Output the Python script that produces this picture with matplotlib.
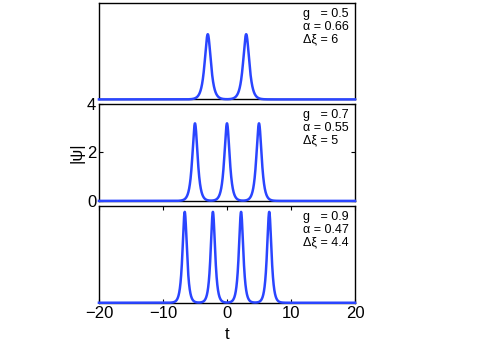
import numpy as np
import matplotlib
matplotlib.use("Agg")
import matplotlib.pyplot as plt

plt.rcParams['font.family'] = ['Liberation Sans', 'DejaVu Sans']

# pulse parameters (one list per panel)
centers = [[-3.0, 3.0], [-5.0, 0.0, 5.0], [-6.6, -2.2, 2.2, 6.6]]
heights = [2.7, 3.2, 3.75]
widths = [0.42, 0.36, 0.3]
g_vals = ["0.5", "0.7", "0.9"]
alpha_vals = ["0.66", "0.55", "0.47"]
dxi_vals = ["6", "5", "4.4"]

t = np.linspace(-20, 20, 4001)

fig = plt.figure(figsize=(4.85, 3.5), dpi=100)

# panel boxes in figure fractions (left, bottom, width, height)
boxes = [(0.204, 0.716, 0.528, 0.276),
         (0.204, 0.426, 0.528, 0.277),
         (0.204, 0.135, 0.528, 0.277)]

for i, box in enumerate(boxes):
    ax = fig.add_axes(box)
    psi = np.zeros_like(t)
    for c in centers[i]:
        psi += heights[i] / np.cosh((t - c) / widths[i])
    ax.plot(t, psi, color='#2a45ff', lw=1.8, clip_on=False, zorder=3)
    ax.set_xlim(-20, 20)
    ax.set_ylim(0, 4)
    for s in ax.spines.values():
        s.set_linewidth(1.0)

    txt = "g   = %s\n\u03b1 = %s\n\u0394\u03be = %s" % (g_vals[i], alpha_vals[i], dxi_vals[i])
    ax.text(0.797, 0.95, txt, transform=ax.transAxes, fontsize=9,
            va='top', ha='left', linespacing=1.1)

    ax.tick_params(direction='in', length=3, width=0.8, top=True, right=True,
                   labelsize=12, pad=2)
    if i == 1:
        ax.set_yticks([0, 2, 4])
        ax.set_xticks([])
        ax.set_ylabel("|\u03c8|", fontsize=12, labelpad=2)
    elif i == 2:
        ax.set_xticks([-20, -10, 0, 10, 20])
        ax.set_xticklabels(["\u221220", "\u221210", "0", "10", "20"])
        ax.set_yticks([])
        ax.set_xlabel("t", fontsize=12, labelpad=5)
    else:
        ax.set_xticks([])
        ax.set_yticks([])

fig.savefig("out.png", dpi=100)
